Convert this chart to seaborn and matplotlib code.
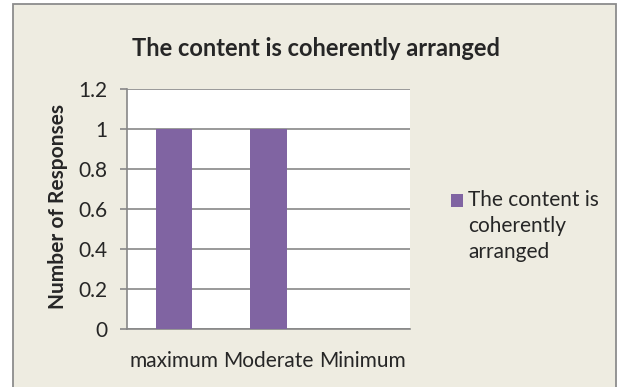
import matplotlib
matplotlib.use('Agg')
import matplotlib.pyplot as plt
import seaborn as sns
import pandas as pd
from matplotlib.patches import Rectangle

# data
categories = ['maximum', 'Moderate', 'Minimum']
responses = [1, 1, 0]
series_label = 'The content is\ncoherently\narranged'
chart_title = 'The content is coherently arranged'
y_ticks = [0, 0.2, 0.4, 0.6, 0.8, 1.0, 1.2]
y_tick_labels = ['0', '0.2', '0.4', '0.6', '0.8', '1', '1.2']

df = pd.DataFrame({'Level': categories, 'Responses': responses, 'Series': series_label})

sns.set_style('white')
plt.rcParams['font.family'] = ['Lato', 'DejaVu Sans']

W, H = 617, 387
bar_color = '#8064A2'
grid_color = '#878787'

fig = plt.figure(figsize=(W / 100, H / 100), dpi=100, facecolor='white')

# chart area background with border (Excel style)
fig.patches.append(Rectangle((13 / W, -0.05), (616 - 13) / W, 1.05 - 4 / H,
                             transform=fig.transFigure, facecolor='#EEECE1',
                             edgecolor='#8C8C8C', lw=1.3, zorder=-10))

ax = fig.add_axes([126.7 / W, 1 - 329.3 / H, (410 - 126.7) / W, 240 / H])
ax.set_facecolor('white')

sns.barplot(data=df, x='Level', y='Responses', hue='Series', palette=[bar_color],
            width=0.39, saturation=1, errorbar=None, linewidth=0, ax=ax, zorder=3)

ax.set_ylim(0, 1.2)
ax.set_yticks(y_ticks)
ax.set_yticklabels(y_tick_labels)
ax.grid(axis='y', color=grid_color, lw=1.2, zorder=1)
ax.grid(axis='x', visible=False)
ax.set_axisbelow(True)
for s in ['top', 'right']:
    ax.spines[s].set_visible(False)
for s in ['left', 'bottom']:
    ax.spines[s].set_color(grid_color)
    ax.spines[s].set_linewidth(1.2)
ax.tick_params(axis='y', length=5, width=1.2, color=grid_color, pad=9, labelsize=15, left=True)
ax.tick_params(axis='x', length=0, pad=15.5, labelsize=15)

ax.set_xlabel('')
ax.set_ylabel('Number of Responses', fontsize=15, fontweight='bold')
ax.yaxis.set_label_coords((68 - 126.7) / 283.3, 0.51)

fig.text(316 / W, 1 - 48 / H, chart_title, ha='center', va='center',
         fontsize=17, fontweight='bold')

# legend on the right, marker aligned with the first line
handles, labels = ax.get_legend_handles_labels()
leg = ax.legend(handles, labels, loc='upper left', bbox_to_anchor=(451 / W, 1 - 189.5 / H),
                bbox_transform=fig.transFigure, frameon=False, fontsize=15,
                borderpad=0, borderaxespad=0, handlelength=0.58, handleheight=0.58,
                handletextpad=0.25)
leg.get_texts()[0].set_linespacing(1.4)
patch = leg.get_patches()[0]
patch.set_y(patch.get_y() + 19)

fig.savefig('out.png', dpi=100, facecolor='white')
